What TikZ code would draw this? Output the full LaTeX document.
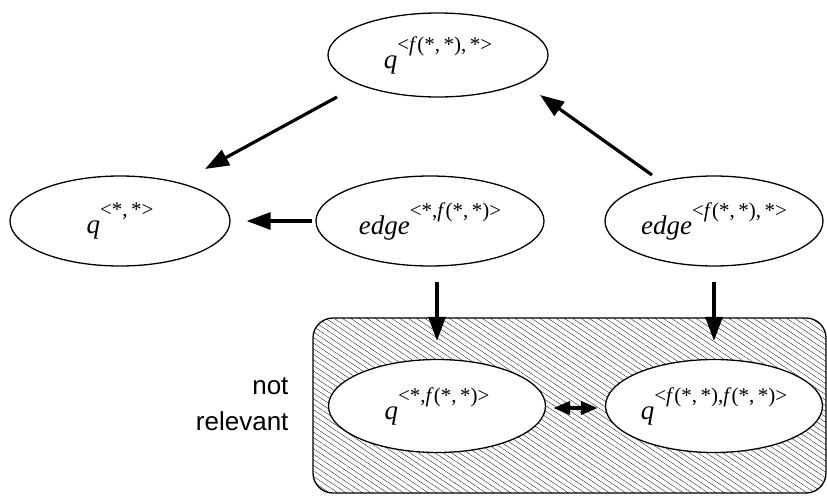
\documentclass[tikz,border=0pt]{standalone}
\usepackage{fontspec}
\setmainfont{Liberation Serif}
\newfontfamily\sansf{Liberation Sans}
\usetikzlibrary{shapes.geometric,arrows.meta,patterns.meta,calc}
\newcommand\qlbl[2]{\fontsize{27}{27}\selectfont\textit{#1}\raisebox{17pt}{\fontsize{21}{21}\selectfont #2}}
\tikzset{
  ell/.style={ellipse, draw, line width=1.3pt, fill=white, inner sep=0pt, minimum width=220pt, minimum height=90pt},
  arr/.style={line width=3.2pt, -{Triangle[length=24pt,width=17pt]}},
  darr/.style={line width=4pt, {Triangle[length=17pt,width=13pt]}-{Triangle[length=17pt,width=13pt]}},
  hatchbox/.style={draw, line width=1.3pt, rounded corners=20pt, pattern={Lines[angle=-34,distance=4.6pt,line width=0.3pt]}},
}
\begin{document}
\begin{tikzpicture}[x=1pt,y=-1pt]
\useasboundingbox (0,0) rectangle (827,498);
\node[hatchbox, minimum width=513pt, minimum height=175pt] (box) at (569.5,405.5) {};
\node[ell, minimum height=84pt] (top) at (438,55) {\qlbl{q}{<\textit{f}(*,\,*),\,*>}};
\node[ell] (left) at (120,221) {\qlbl{q}{<*,\,*>}};
\node[ell, minimum width=228pt] (edge1) at (430,221) {\qlbl{edge}{<*,\textit{f}(*,\,*)>}};
\node[ell, minimum width=218pt] (edge2) at (714,221) {\qlbl{edge}{<\textit{f}(*,\,*),\,*>}};
\node[ell, minimum width=217pt, minimum height=93pt] (bl) at (437,406) {\qlbl{q}{<*,\textit{f}(*,\,*)>}};
\node[ell, minimum width=217pt, minimum height=93pt] (br) at (714,406) {\qlbl{q}{<\textit{f}(*,\,*),\textit{f}(*,\,*)>}};
\node[anchor=east, align=right, font=\sansf\fontsize{26}{36}\selectfont] (nr) at (292,404) {not\\relevant};
\draw[arr] ($(top)+(-101,42)$) -- ($(left)+(85,-52)$);
\draw[arr] ($(edge2)+(-62,-46)$) -- ($(top)+(102,40)$);
\draw[arr] ($(edge1.west)+(-3,0)$) -- ($(left.east)+(16,0)$);
\draw[arr] ($(bl.north |- edge1.south)+(0,15)$) -- ($(bl.north)+(0,-18)$);
\draw[arr] ($(br.north |- edge2.south)+(0,15)$) -- ($(br.north)+(0,-18)$);
\draw[darr] ($(bl.east)+(7,2)$) -- ($(br.west)+(-7,2)$);
\end{tikzpicture}
\end{document}
